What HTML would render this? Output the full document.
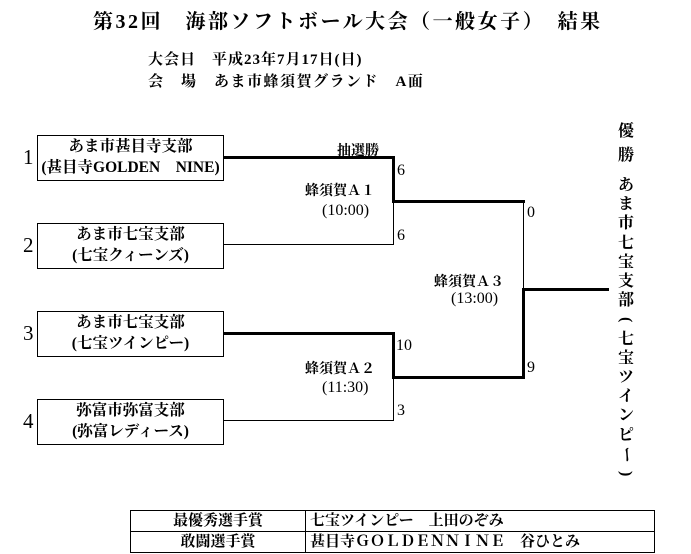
<!DOCTYPE html>
<html><head><meta charset="utf-8"><style>
body{margin:0;width:691px;height:554px;background:#fff;position:relative;overflow:hidden;font-family:"Liberation Serif","Noto Serif CJK JP",serif;color:#000}
.a{position:absolute;white-space:nowrap}
.b{font-weight:bold}
.box{position:absolute;left:37px;width:185px;height:44px;border:1px solid #000;text-align:center;font-size:15.5px;line-height:21px;font-weight:bold}
.h{position:absolute;background:#000}
.n{font-size:21px}
.s{font-size:14px;font-weight:bold}
.d{font-size:16px}
.v{position:absolute;left:617px;width:18px;text-align:center;font-size:16px;font-weight:bold;line-height:19.2px}
table{position:absolute;left:130px;top:510px;border-collapse:collapse;font-size:15px;font-weight:bold}
td{border:1px solid #000;height:20px;padding:0;line-height:20px}
</style></head><body>
<div class="a b" style="left:93px;top:5px;font-size:20px;letter-spacing:2.5px">第32回　海部ソフトボール大会（一般女子）　結果</div>
<div class="a b" style="left:148px;top:48px;font-size:15px;letter-spacing:1px">大会日　平成23年7月17日(日)</div>
<div class="a b" style="left:148px;top:70px;font-size:15px;letter-spacing:1.5px">会　場　あま市蜂須賀グランド　A面</div>

<div class="a n" style="left:23px;top:145px">1</div>
<div class="a n" style="left:23px;top:233px">2</div>
<div class="a n" style="left:23px;top:321px">3</div>
<div class="a n" style="left:23px;top:409px">4</div>

<div class="box" style="top:135px">あま市甚目寺支部<br>(甚目寺GOLDEN　NINE)</div>
<div class="box" style="top:223px">あま市七宝支部<br>(七宝クィーンズ)</div>
<div class="box" style="top:311px">あま市七宝支部<br>(七宝ツインピー)</div>
<div class="box" style="top:399px">弥富市弥富支部<br>(弥富レディース)</div>

<div class="h" style="left:223px;top:156px;width:172px;height:3px"></div>
<div class="h" style="left:392px;top:156px;width:3px;height:47px"></div>
<div class="h" style="left:223px;top:244px;width:171px;height:1px"></div>
<div class="h" style="left:393px;top:202px;width:1px;height:43px"></div>
<div class="h" style="left:392px;top:200px;width:133px;height:3px"></div>
<div class="h" style="left:223px;top:332px;width:172px;height:3px"></div>
<div class="h" style="left:392px;top:332px;width:3px;height:47px"></div>
<div class="h" style="left:223px;top:420px;width:171px;height:1px"></div>
<div class="h" style="left:393px;top:378px;width:1px;height:43px"></div>
<div class="h" style="left:392px;top:376px;width:133px;height:3px"></div>
<div class="h" style="left:523px;top:202px;width:1px;height:88px"></div>
<div class="h" style="left:522px;top:288px;width:3px;height:91px"></div>
<div class="h" style="left:522px;top:288px;width:87px;height:3px"></div>

<div class="a s" style="left:337px;top:140px">抽選勝</div>
<div class="a d" style="left:397px;top:162px">6</div>
<div class="a d" style="left:397px;top:227px">6</div>
<div class="a s" style="left:305px;top:180px">蜂須賀Ａ１</div>
<div class="a d" style="left:322px;top:202px">(10:00)</div>
<div class="a d" style="left:527px;top:204px">0</div>
<div class="a s" style="left:434px;top:271px">蜂須賀Ａ３</div>
<div class="a d" style="left:451px;top:290px">(13:00)</div>
<div class="a d" style="left:396px;top:337px">10</div>
<div class="a s" style="left:305px;top:358px">蜂須賀Ａ２</div>
<div class="a d" style="left:322px;top:379px">(11:30)</div>
<div class="a d" style="left:397px;top:402px">3</div>
<div class="a d" style="left:527px;top:359px">9</div>

<div class="v" style="top:120px;line-height:24px">優<br>勝</div>
<div class="v" style="top:176px">あ<br>ま<br>市<br>七<br>宝<br>支<br>部<br><span style="display:inline-block;transform:rotate(90deg)">(</span><br>七<br>宝<br>ツ<br>イ<br>ン<br>ピ<br><span style="display:inline-block;transform:rotate(90deg)">ー</span><br><span style="display:inline-block;transform:rotate(90deg)">)</span></div>

<table>
<tr><td style="width:174px;text-align:center">最優秀選手賞</td><td style="width:344px;padding-left:4px">七宝ツインピー　上田のぞみ</td></tr>
<tr><td style="text-align:center">敢闘選手賞</td><td style="padding-left:4px">甚目寺ＧＯＬＤＥＮＮＩＮＥ　谷ひとみ</td></tr>
</table>
</body></html>
